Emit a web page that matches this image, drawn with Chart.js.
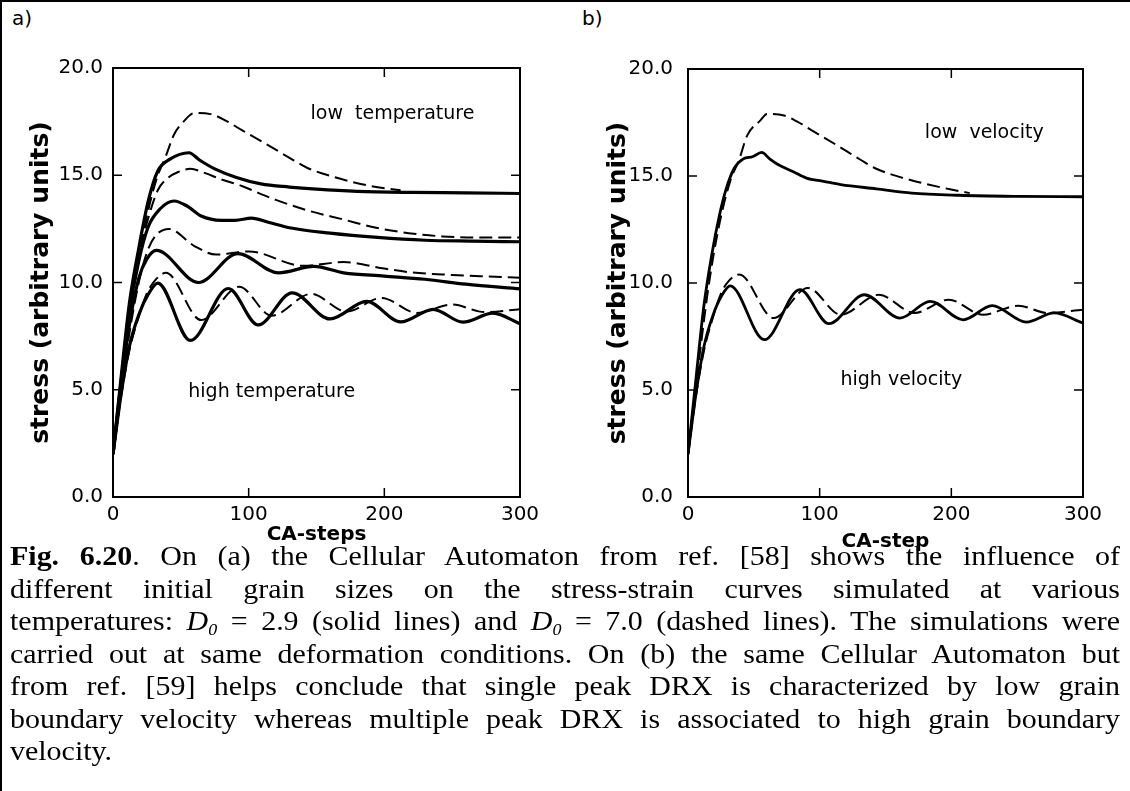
<!DOCTYPE html>
<html>
<head>
<meta charset="utf-8">
<title>Fig. 6.20</title>
<script src="https://cdn.jsdelivr.net/npm/chart.js@4.4.1/dist/chart.umd.min.js"></script>
<style>
  html, body { margin: 0; padding: 0; background: #fff; }
  body { width: 1130px; height: 791px; position: relative; overflow: hidden; }
  .frame { position: absolute; left: 0; top: 0; width: 1130px; height: 791px; border-top: 2px solid #000; border-left: 2px solid #000; box-sizing: border-box; }
  .panel { position: absolute; top: 0; height: 560px; }
  #wrapA { left: 0; width: 560px; }
  #wrapB { left: 560px; width: 570px; }
  .tag { position: absolute; top: 6px; font: 20px 'DejaVu Sans', sans-serif; color: #000; }
  .caption { position: absolute; left: 10px; top: 540px; width: 1000px; transform: scaleX(1.11); transform-origin: 0 0; font: 27px/32.5px 'Liberation Serif', serif; color: #000; }
  .caption div { text-align: justify; text-align-last: justify; }
  .caption div.last { text-align-last: left; }
  .caption sub { font-size: 60%; line-height: 0; vertical-align: baseline; position: relative; top: 0.3em; }
</style>
</head>
<body>
<div class="frame"></div>
<div class="tag" style="left:12px">a)</div>
<div class="tag" style="left:582px">b)</div>
<div class="panel" id="wrapA"><canvas id="chartA"></canvas></div>
<div class="panel" id="wrapB"><canvas id="chartB"></canvas></div>
<div class="caption">
  <div><b>Fig. 6.20</b>. On (a) the Cellular Automaton from ref. [58] shows the influence of</div>
  <div>different initial grain sizes on the stress-strain curves simulated at various</div>
  <div>temperatures: <i>D<sub>0</sub></i> = 2.9 (solid lines) and <i>D<sub>0</sub></i> = 7.0 (dashed lines). The simulations were</div>
  <div>carried out at same deformation conditions. On (b) the same Cellular Automaton but</div>
  <div>from ref. [59] helps conclude that single peak DRX is characterized by low grain</div>
  <div>boundary velocity whereas multiple peak DRX is associated to high grain boundary</div>
  <div class="last">velocity.</div>
</div>
<script>
// ---- axis ticks ----
const xTicks = [0, 100, 200, 300];
const yTicks = [0, 5, 10, 15, 20];
const yTickLabels = ['0.0', '5.0', '10.0', '15.0', '20.0'];

// ---- panel (a): D0 = 2.9 solid, D0 = 7.0 dashed ----
const aSolid1X = [0, 6, 12, 19, 26, 33, 42, 56, 64, 75, 91, 109, 130, 150, 180, 220, 260, 300];
const aSolid1Y = [2, 5.6, 9.0, 11.6, 13.8, 15.2, 15.75, 16.05, 15.7, 15.3, 14.9, 14.6, 14.45, 14.35, 14.25, 14.2, 14.18, 14.15];
const aDash1X = [0, 8, 16, 24, 32, 39, 45, 52, 60, 72, 83, 95, 113, 131, 143, 165, 190, 212];
const aDash1Y = [2, 6.2, 10.0, 12.8, 14.8, 15.9, 16.9, 17.5, 17.9, 17.85, 17.55, 17.1, 16.45, 15.78, 15.35, 14.88, 14.5, 14.3];

const aSolid2X = [0, 6, 12, 19, 26, 35, 45, 55, 65, 80, 90, 102, 115, 130, 160, 195, 230, 265, 300];
const aSolid2Y = [2, 5.4, 8.6, 11.0, 12.6, 13.45, 13.8, 13.55, 13.1, 12.9, 12.9, 13.0, 12.8, 12.55, 12.3, 12.1, 11.97, 11.93, 11.9];
const aDash2X = [0, 6, 12, 19, 26, 33, 40, 48, 57, 68, 80, 95, 110, 120, 144, 169, 194, 218, 243, 270, 300];
const aDash2Y = [2, 5.2, 8.4, 11.2, 13.0, 14.3, 14.85, 15.15, 15.3, 15.1, 14.8, 14.5, 14.1, 13.85, 13.35, 12.95, 12.55, 12.3, 12.15, 12.1, 12.1];

const aSolid3X = [0, 6, 12, 19, 25, 32, 63, 92, 122, 148, 170, 200, 230, 260, 300];
const aSolid3Y = [2, 5.2, 8.0, 10.2, 11.1, 11.5, 10.0, 11.35, 10.45, 10.75, 10.45, 10.3, 10.15, 9.92, 9.7];
const aDash3X = [0, 6, 12, 19, 25, 31, 41, 60, 76, 100, 140, 170, 200, 220, 250, 275, 300];
const aDash3Y = [2, 4.9, 7.6, 10.0, 11.4, 12.15, 12.5, 11.7, 11.3, 11.45, 10.78, 10.95, 10.65, 10.47, 10.35, 10.28, 10.22];

const aSolid4X = [0, 6, 12, 19, 26, 33, 57, 85, 107, 132, 160, 187, 212, 236, 258, 280, 300];
const aSolid4Y = [2, 4.8, 7.0, 8.5, 9.45, 9.97, 7.3, 9.72, 8.02, 9.52, 8.3, 9.12, 8.16, 8.75, 8.15, 8.57, 8.08];
const aDash4X = [0, 6, 12, 19, 25, 31, 39, 65, 93, 117, 146, 172, 198, 224, 250, 274, 300];
const aDash4Y = [2, 4.7, 6.8, 8.4, 9.5, 10.1, 10.45, 8.25, 9.8, 8.45, 9.47, 8.65, 9.28, 8.58, 8.97, 8.62, 8.75];

// ---- panel (b): low / high grain boundary velocity ----
const bLowSolidX = [0, 6, 12, 18, 24, 29, 35, 42, 49, 56, 62, 68, 80, 90, 103, 116, 143, 170, 206, 250, 300];
const bLowSolidY = [2, 5.5, 8.9, 11.3, 13.2, 14.4, 15.35, 15.8, 15.9, 16.1, 15.8, 15.55, 15.2, 14.9, 14.75, 14.6, 14.4, 14.2, 14.1, 14.05, 14.03];
const bLowDashX = [0, 8, 16, 24, 32, 39, 45, 55, 60, 73, 83, 95, 113, 131, 143, 165, 192, 214];
const bLowDashY = [2, 6.2, 10.0, 12.8, 14.75, 15.8, 16.9, 17.6, 17.9, 17.83, 17.54, 17.1, 16.44, 15.76, 15.34, 14.88, 14.47, 14.2];

const bHighSolidX = [0, 6, 12, 19, 26, 32, 58, 85, 107, 134, 161, 184, 209, 231, 257, 278, 300];
const bHighSolidY = [2, 4.8, 7.0, 8.5, 9.45, 9.87, 7.35, 9.69, 8.1, 9.45, 8.36, 9.14, 8.28, 8.94, 8.17, 8.6, 8.13];
const bHighDashX = [0, 6, 12, 19, 25, 31, 39, 65, 91, 116, 145, 172, 198, 224, 251, 273, 300];
const bHighDashY = [2, 4.7, 6.8, 8.4, 9.5, 10.1, 10.4, 8.36, 9.77, 8.52, 9.45, 8.6, 9.22, 8.52, 8.94, 8.6, 8.75];

const FONT = "'DejaVu Sans', sans-serif";

const line = (xs, ys, dashed, width) => ({
  data: xs.map((x, i) => ({ x, y: ys[i] })),
  borderColor: '#000',
  borderWidth: width,
  borderDash: dashed ? [13, 6] : [],
  borderCapStyle: 'butt',
  pointRadius: 0,
  cubicInterpolationMode: 'monotone',
  fill: false
});

// frame around the plot plus inward ticks on all four sides
const frameTicks = {
  id: 'frameTicks',
  afterDatasetsDraw(chart, args, opts) {
    const { ctx, chartArea: a, scales: { x, y } } = chart;
    const len = opts.len || 9;
    ctx.save();
    ctx.strokeStyle = '#000';
    ctx.lineWidth = 2;
    ctx.strokeRect(a.left, a.top, a.right - a.left, a.bottom - a.top);
    ctx.lineWidth = 1.5;
    ctx.beginPath();
    x.ticks.forEach(t => {
      if (t.value <= x.min || t.value >= x.max) return;
      const px = x.getPixelForValue(t.value);
      ctx.moveTo(px, a.bottom); ctx.lineTo(px, a.bottom - len);
      ctx.moveTo(px, a.top); ctx.lineTo(px, a.top + len);
    });
    y.ticks.forEach(t => {
      if (t.value <= y.min || t.value >= y.max) return;
      const py = y.getPixelForValue(t.value);
      ctx.moveTo(a.left, py); ctx.lineTo(a.left + len, py);
      ctx.moveTo(a.right, py); ctx.lineTo(a.right - len, py);
    });
    ctx.stroke();
    ctx.restore();
  }
};

// free text inside the plot, placed in data coordinates
const plotNotes = {
  id: 'plotNotes',
  afterDraw(chart, args, opts) {
    const { ctx, scales: { x, y } } = chart;
    ctx.save();
    ctx.fillStyle = '#000';
    ctx.font = '19px ' + FONT;
    ctx.textAlign = 'center';
    ctx.textBaseline = 'middle';
    (opts.items || []).forEach(n => ctx.fillText(n.text, x.getPixelForValue(n.x), y.getPixelForValue(n.y)));
    ctx.restore();
  }
};

function makePanel(id, p) {
  return new Chart(document.getElementById(id), {
    type: 'line',
    data: { datasets: p.datasets },
    plugins: [frameTicks, plotNotes],
    options: {
      responsive: true,
      maintainAspectRatio: false,
      animation: false,
      events: [],
      layout: { padding: { left: 0, top: p.top, right: p.right, bottom: 0 } },
      plugins: {
        legend: { display: false },
        tooltip: { enabled: false },
        plotNotes: { items: p.notes }
      },
      scales: {
        x: {
          type: 'linear', min: 0, max: 300,
          afterBuildTicks: s => { s.ticks = xTicks.map(v => ({ value: v })); },
          afterFit: s => { s.height = p.xHeight; },
          grid: { display: false, drawTicks: false },
          border: { display: false },
          ticks: { color: '#000', padding: 6, maxRotation: 0, autoSkip: false, font: { family: FONT, size: 20 } },
          title: { display: true, text: p.xTitle, color: '#000', font: { family: FONT, size: 20, weight: 'bold' }, padding: { top: 0, bottom: p.xTitlePad } }
        },
        y: {
          type: 'linear', min: 0, max: 20,
          afterBuildTicks: s => { s.ticks = yTicks.map(v => ({ value: v })); },
          afterFit: s => { s.width = p.yWidth; },
          grid: { display: false, drawTicks: false },
          border: { display: false },
          ticks: { color: '#000', padding: p.yTickPad, autoSkip: false, font: { family: FONT, size: 20 },
                   callback: (v, i) => yTickLabels[i] },
          title: { display: true, text: 'stress (arbitrary units)', color: '#000', font: { family: FONT, size: 25, weight: 'bold' }, padding: { top: p.yTitlePad, bottom: 0 } }
        }
      }
    }
  });
}

makePanel('chartA', {
  top: 68, right: 40, xHeight: 63, yWidth: 113, yTickPad: 10, yTitlePad: 26, xTitlePad: 13,
  xTitle: 'CA-steps',
  notes: [
    { text: 'low  temperature', x: 206, y: 17.85 },
    { text: 'high temperature', x: 117, y: 4.9 }
  ],
  datasets: [
    line(aDash1X, aDash1Y, true, 2), line(aDash2X, aDash2Y, true, 2),
    line(aDash3X, aDash3Y, true, 2), line(aDash4X, aDash4Y, true, 2),
    line(aSolid1X, aSolid1Y, false, 3.2), line(aSolid2X, aSolid2Y, false, 3.2),
    line(aSolid3X, aSolid3Y, false, 3.2), line(aSolid4X, aSolid4Y, false, 3.2)
  ]
});

makePanel('chartB', {
  top: 69, right: 47, xHeight: 63, yWidth: 128, yTickPad: 15, yTitlePad: 43, xTitlePad: 6,
  xTitle: 'CA-step',
  notes: [
    { text: 'low  velocity', x: 225, y: 17.0 },
    { text: 'high velocity', x: 162, y: 5.45 }
  ],
  datasets: [
    line(bLowDashX, bLowDashY, true, 2), line(bHighDashX, bHighDashY, true, 2),
    line(bLowSolidX, bLowSolidY, false, 2.8), line(bHighSolidX, bHighSolidY, false, 2.8)
  ]
});
</script>
</body>
</html>
